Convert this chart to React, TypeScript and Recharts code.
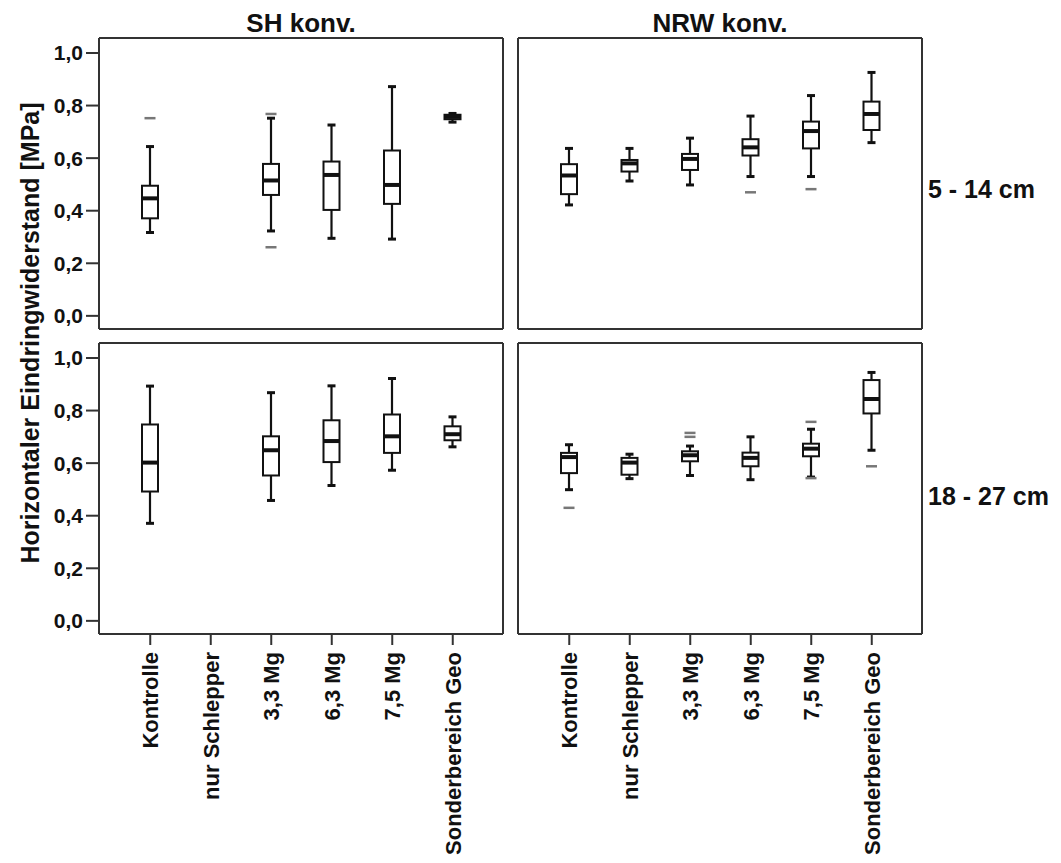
import { ComposedChart, Bar, XAxis, YAxis } from "recharts";

const categories = [
  "Kontrolle",
  "nur Schlepper",
  "3,3 Mg",
  "6,3 Mg",
  "7,5 Mg",
  "Sonderbereich Geo",
];
const yTicks = [0, 0.2, 0.4, 0.6, 0.8, 1.0];

// [lower whisker, Q1, median, Q3, upper whisker] per category
type Stats = number[] | null;

const shTop: Stats[] = [
  [0.317, 0.371, 0.447, 0.495, 0.644],
  null,
  [0.323, 0.46, 0.515, 0.578, 0.752],
  [0.295, 0.403, 0.536, 0.587, 0.726],
  [0.292, 0.426, 0.498, 0.629, 0.872],
  [0.737, 0.748, 0.757, 0.765, 0.77],
];
const shTopOutliers = [[0.752], [], [0.768, 0.261], [], [], []];

const nrwTop: Stats[] = [
  [0.422, 0.463, 0.534, 0.577, 0.637],
  [0.513, 0.549, 0.58, 0.593, 0.637],
  [0.498, 0.555, 0.597, 0.616, 0.676],
  [0.53, 0.61, 0.641, 0.672, 0.76],
  [0.53, 0.637, 0.703, 0.739, 0.838],
  [0.659, 0.707, 0.768, 0.815, 0.926],
];
const nrwTopOutliers = [[], [], [], [0.47], [0.482], []];

const shBottom: Stats[] = [
  [0.371, 0.492, 0.602, 0.747, 0.893],
  null,
  [0.458, 0.553, 0.649, 0.702, 0.868],
  [0.515, 0.604, 0.684, 0.763, 0.894],
  [0.573, 0.639, 0.702, 0.785, 0.922],
  [0.662, 0.687, 0.71, 0.74, 0.776],
];
const shBottomOutliers = [[], [], [], [], [], []];

const nrwBottom: Stats[] = [
  [0.499, 0.562, 0.623, 0.639, 0.67],
  [0.541, 0.556, 0.602, 0.62, 0.634],
  [0.553, 0.607, 0.63, 0.645, 0.665],
  [0.537, 0.588, 0.62, 0.64, 0.7],
  [0.547, 0.626, 0.655, 0.674, 0.729],
  [0.649, 0.789, 0.844, 0.916, 0.945],
];
const nrwBottomOutliers = [[0.43], [], [0.7, 0.715], [], [0.757, 0.543], [0.588]];

const FONT = "'Liberation Sans', Arial, Helvetica, sans-serif";
const INK = "#111";
const FRAME = { stroke: "#333", strokeWidth: 2 };
const Y_DOMAIN: [number, number] = [-0.05, 1.057];

const buildRows = (stats: Stats[], outliers: number[][]) =>
  categories.map((name, i) => {
    const s = stats[i];
    const all = s ? [...s, ...outliers[i]] : [];
    return {
      name,
      stats: s,
      outliers: outliers[i],
      range: s ? [Math.min(...all), Math.max(...all)] : null,
    };
  });

// draws one box plot inside the pixel range the bar got from the y scale
const BoxShape = (props: any) => {
  const { x, y, width, height, payload } = props;
  if (!payload || !payload.stats) return null;
  const [lo, hi] = payload.range;
  const top = Math.min(y, y + height);
  const bottom = Math.max(y, y + height);
  const py = (v: number) => bottom - ((v - lo) / (hi - lo)) * (bottom - top);
  const [wLo, q1, med, q3, wHi] = payload.stats;
  const cx = x + width / 2;
  const cap = 4;
  return (
    <g>
      <line x1={cx} x2={cx} y1={py(wHi)} y2={py(q3)} stroke={INK} strokeWidth={2.2} />
      <line x1={cx} x2={cx} y1={py(q1)} y2={py(wLo)} stroke={INK} strokeWidth={2.2} />
      <line x1={cx - cap} x2={cx + cap} y1={py(wHi)} y2={py(wHi)} stroke={INK} strokeWidth={3} />
      <line x1={cx - cap} x2={cx + cap} y1={py(wLo)} y2={py(wLo)} stroke={INK} strokeWidth={3} />
      <rect
        x={x}
        y={py(q3)}
        width={width}
        height={Math.max(py(q1) - py(q3), 1)}
        fill="#fff"
        stroke={INK}
        strokeWidth={2}
      />
      <line x1={x} x2={x + width} y1={py(med)} y2={py(med)} stroke={INK} strokeWidth={4} />
      {payload.outliers.map((o: number, k: number) => (
        <line
          key={k}
          x1={cx - 5.5}
          x2={cx + 5.5}
          y1={py(o)}
          y2={py(o)}
          stroke="#777"
          strokeWidth={2.5}
        />
      ))}
    </g>
  );
};

const CategoryTick = (props: any) => {
  const { x, y, payload } = props;
  return (
    <text
      x={x}
      y={y}
      transform={`rotate(-90 ${x} ${y})`}
      textAnchor="end"
      dy="0.36em"
      fill={INK}
      fontFamily={FONT}
      fontWeight="bold"
      fontSize={22}
    >
      {payload.value}
    </text>
  );
};

const labelStyle = {
  fill: INK,
  fontFamily: FONT,
  fontWeight: "bold",
  fontSize: 25,
};

type PanelProps = {
  rows: any[];
  left: number;
  top: number;
  firstCol: boolean;
  firstRow: boolean;
  title?: string;
  rowLabel?: string;
};

function Panel({ rows, left, top, firstCol, firstRow, title, rowLabel }: PanelProps) {
  const leftAxisW = firstCol ? 99 : 8;
  const rightAxisW = firstCol ? 2 : 139;
  const topAxisH = firstRow ? 38 : 13;
  const bottomAxisH = firstRow ? 1 : 229;
  const width = leftAxisW + 404 + rightAxisW;
  const height = topAxisH + 291 + bottomAxisH;
  return (
    <div style={{ position: "absolute", left, top }}>
      <ComposedChart
        width={width}
        height={height}
        data={rows}
        margin={{ top: 0, right: 0, bottom: 0, left: 0 }}
      >
        <XAxis
          xAxisId="b"
          dataKey="name"
          type="category"
          padding={{ left: 21, right: 20 }}
          height={bottomAxisH}
          axisLine={FRAME}
          tickLine={firstRow ? false : FRAME}
          tickSize={11}
          tickMargin={7}
          interval={0}
          tick={firstRow ? false : <CategoryTick />}
        />
        <XAxis
          xAxisId="t"
          orientation="top"
          dataKey="name"
          type="category"
          height={topAxisH}
          axisLine={FRAME}
          tickLine={false}
          tick={false}
          label={
            title
              ? { value: title, position: "center", dy: 4, ...labelStyle, fontSize: 26 }
              : undefined
          }
        />
        <YAxis
          yAxisId="l"
          type="number"
          domain={Y_DOMAIN}
          allowDataOverflow
          ticks={yTicks}
          interval={0}
          width={leftAxisW}
          axisLine={FRAME}
          tickLine={firstCol ? FRAME : false}
          tickSize={13}
          tickMargin={3}
          tick={
            firstCol
              ? { fill: INK, fontFamily: FONT, fontWeight: "bold", fontSize: 21 }
              : false
          }
          tickFormatter={(v: number) => v.toFixed(1).replace(".", ",")}
        />
        <YAxis
          yAxisId="r"
          orientation="right"
          type="number"
          domain={Y_DOMAIN}
          allowDataOverflow
          width={rightAxisW}
          axisLine={FRAME}
          tickLine={false}
          tick={false}
          label={
            rowLabel
              ? {
                  value: rowLabel,
                  position: "insideLeft",
                  offset: 6,
                  dy: firstRow ? 6 : 8,
                  ...labelStyle,
                }
              : undefined
          }
        />
        <Bar
          xAxisId="b"
          yAxisId="l"
          dataKey="range"
          barSize={16}
          shape={<BoxShape />}
          isAnimationActive={false}
        />
      </ComposedChart>
    </div>
  );
}

export default function App() {
  return (
    <div
      style={{
        position: "absolute",
        left: 0,
        top: 0,
        width: 1061,
        height: 863,
        background: "#fff",
        overflow: "hidden",
      }}
    >
      <Panel
        rows={buildRows(shTop, shTopOutliers)}
        left={0}
        top={0}
        firstCol
        firstRow
        title="SH konv."
      />
      <Panel
        rows={buildRows(nrwTop, nrwTopOutliers)}
        left={510}
        top={0}
        firstCol={false}
        firstRow
        title="NRW konv."
        rowLabel="5 - 14 cm"
      />
      <Panel
        rows={buildRows(shBottom, shBottomOutliers)}
        left={0}
        top={330}
        firstCol
        firstRow={false}
      />
      <Panel
        rows={buildRows(nrwBottom, nrwBottomOutliers)}
        left={510}
        top={330}
        firstCol={false}
        firstRow={false}
        rowLabel="18 - 27 cm"
      />
      <svg
        width={60}
        height={863}
        style={{ position: "absolute", left: 0, top: 0 }}
      >
        <text
          x={30}
          y={333}
          transform="rotate(-90 30 333)"
          textAnchor="middle"
          dominantBaseline="central"
          {...labelStyle}
        >
          Horizontaler Eindringwiderstand [MPa]
        </text>
      </svg>
    </div>
  );
}
